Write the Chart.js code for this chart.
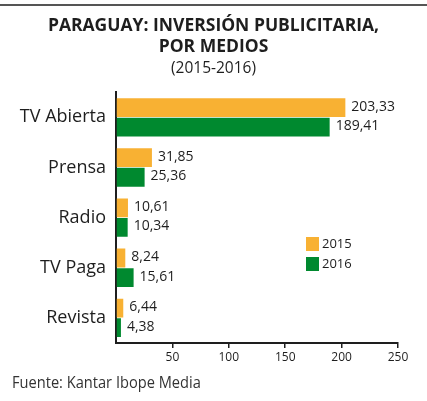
<!DOCTYPE html>
<html>
<head>
<meta charset="utf-8">
<script src="https://cdn.jsdelivr.net/npm/chart.js"></script>
<style>
  body { margin: 0; background: #fff; }
</style>
</head>
<body>
<canvas id="chart1" width="427" height="401"></canvas>
<script>
const medios = ['TV Abierta', 'Prensa', 'Radio', 'TV Paga', 'Revista'];
const v2015 = [203.33, 31.85, 10.61, 8.24, 6.44];
const v2016 = [189.41, 25.36, 10.34, 15.61, 4.38];
const years = ['2015', '2016'];
const colors = ['#F8B133', '#00892F'];

const FONT = "'Open Sans', sans-serif";
const INK = '#1e1e1e';

const fmt = v => v.toFixed(2).replace('.', ',');

// value labels, legend squares, top rule and source line
const extras = {
    id: 'extras',
    afterDraw(chart) {
        const ctx = chart.ctx;
        ctx.save();

        ctx.strokeStyle = '#555';
        ctx.lineWidth = 2;
        ctx.beginPath();
        ctx.moveTo(0, 5);
        ctx.lineTo(chart.width, 5);
        ctx.stroke();

        ctx.fillStyle = INK;
        ctx.font = '14px ' + FONT;
        ctx.textBaseline = 'middle';
        ctx.textAlign = 'left';
        chart.data.datasets.forEach((ds, i) => {
            chart.getDatasetMeta(i).data.forEach((bar, j) => {
                ctx.fillText(fmt(ds.data[j]), bar.x + 6, bar.y - 1);
            });
        });

        ctx.font = '13px ' + FONT;
        chart.data.datasets.forEach((ds, i) => {
            const y = 237 + i * 20;
            ctx.fillStyle = ds.backgroundColor;
            ctx.fillRect(306, y, 13, 14);
            ctx.fillStyle = INK;
            ctx.fillText(ds.label, 322, y + 7);
        });

        // narrow source line
        ctx.font = '17px ' + FONT;
        ctx.fillStyle = '#333';
        ctx.translate(12, 383);
        ctx.scale(0.86, 1);
        ctx.fillText('Fuente: Kantar Ibope Media', 0, 0);
        ctx.restore();
    }
};

new Chart('chart1', {
    type: 'bar',
    data: {
        labels: medios,
        datasets: [{
            label: years[0],
            data: v2015,
            backgroundColor: colors[0],
            categoryPercentage: 0.78,
            barPercentage: 0.96
        }, {
            label: years[1],
            data: v2016,
            backgroundColor: colors[1],
            categoryPercentage: 0.78,
            barPercentage: 0.96
        }]
    },
    options: {
        indexAxis: 'y',
        responsive: false,
        animation: false,
        devicePixelRatio: 1,
        layout: { padding: 0 },
        plugins: {
            legend: { display: false },
            tooltip: { enabled: false },
            title: {
                display: true,
                text: ['PARAGUAY: INVERSIÓN PUBLICITARIA,', 'POR MEDIOS'],
                color: INK,
                font: { family: FONT, size: 17.5, weight: 'bold', lineHeight: 1.19 },
                padding: { top: 16, bottom: 0 }
            },
            subtitle: {
                display: true,
                text: '(2015-2016)',
                color: INK,
                font: { family: FONT, size: 15.5, lineHeight: 1.2 },
                padding: { top: 2, bottom: 14 }
            }
        },
        scales: {
            x: {
                min: 0,
                max: 250,
                afterFit: s => { s.height = 58; },
                ticks: {
                    stepSize: 50,
                    color: INK,
                    padding: 2,
                    font: { family: FONT, size: 12 },
                    callback: v => v === 0 ? '' : v
                },
                grid: {
                    drawOnChartArea: false,
                    tickLength: 5,
                    lineWidth: 1.5,
                    color: c => c.tick && c.tick.value === 0 ? 'rgba(0,0,0,0)' : INK
                },
                border: { color: INK, width: 2 }
            },
            y: {
                afterFit: s => { s.width = 116; },
                ticks: {
                    color: INK,
                    padding: 10,
                    font: { family: FONT, size: 18 }
                },
                grid: { display: false, drawTicks: false },
                border: { color: INK, width: 2 }
            },
            // empty right-hand strip so the plot stops short of the edge
            spacer: {
                axis: 'y',
                type: 'category',
                position: 'right',
                afterFit: s => { s.width = 29; },
                ticks: { display: false },
                grid: { display: false, drawTicks: false },
                border: { display: false }
            }
        }
    },
    plugins: [extras]
});
</script>
</body>
</html>
